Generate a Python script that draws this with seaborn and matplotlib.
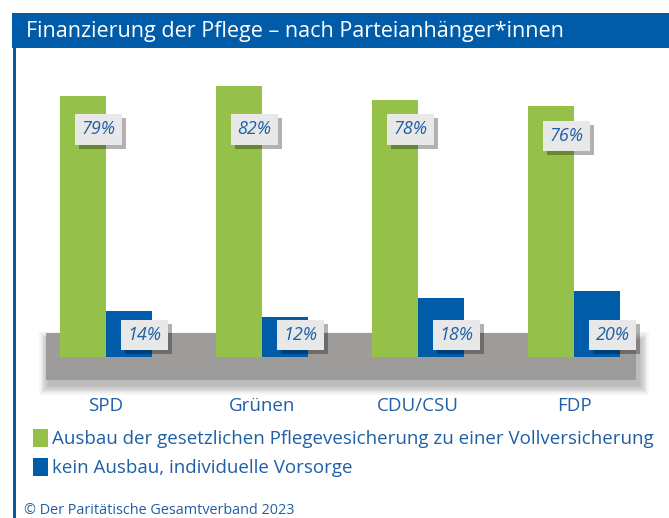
import matplotlib
matplotlib.use("Agg")
import matplotlib.pyplot as plt
import matplotlib.patheffects as pe
from matplotlib.patches import Rectangle
import seaborn as sns
import pandas as pd

parties = ["SPD", "Grünen", "CDU/CSU", "FDP"]
series_names = ["Ausbau der gesetzlichen Pflegevesicherung zu einer Vollversicherung",
                "kein Ausbau, individuelle Vorsorge"]
ausbau = [79, 82, 78, 76]
kein_ausbau = [14, 12, 18, 20]
title = "Finanzierung der Pflege – nach Parteianhänger*innen"
footer = "© Der Paritätische Gesamtverband 2023"

GREEN = "#95c14a"
BLUE = "#005ca9"
TXT = "#1f5fa6"
GRAY = "#9d9c9a"

df = pd.DataFrame({
    "Partei": parties * 2,
    "Serie": [series_names[0]] * 4 + [series_names[1]] * 4,
    "Wert": ausbau + kein_ausbau,
})

sns.set_theme(style="white")
plt.rcParams["font.family"] = ["Open Sans", "DejaVu Sans"]

W, H = 669, 518
fig = plt.figure(figsize=(W / 100, H / 100), dpi=100)

def fx(px):
    return px / W

def fy(py):
    return 1 - py / H

# title band and left rule
fig.patches.append(Rectangle((fx(12), fy(48)), 1 - fx(12), fy(13) - fy(48),
                             transform=fig.transFigure, facecolor=BLUE, edgecolor="none", zorder=0))
fig.patches.append(Rectangle((fx(13), 0), fx(2.5), fy(48), transform=fig.transFigure,
                             facecolor=BLUE, edgecolor="none", zorder=0))
fig.text(fx(26), fy(32), title, color="white", fontsize=15.5, va="center", ha="left")

ax = fig.add_axes([fx(46), fy(380), fx(636) - fx(46), fy(60) - fy(380)])
ax.set_zorder(1)
ax.patch.set_alpha(0)

sns.barplot(data=df, x="Partei", y="Wert", hue="Serie", order=parties,
            hue_order=series_names, palette=[GREEN, BLUE], width=0.59, gap=0,
            saturation=1, linewidth=0, edgecolor="none", ax=ax, zorder=3, legend=True)

XU, YU = 156.0, 3.3  # pixels per data unit
x_left = (46 - 106) / XU
x_right = (636 - 106) / XU
ax.set_xlim(x_left, x_right)
ax.set_ylim(-6.97, 90)

# floor with soft shadow (layered translucent rectangles)
fw, fh = x_right - x_left, 14.3
for k in range(8, 0, -1):
    g = k * 1.2
    ax.add_patch(Rectangle((x_left + 3 / XU - g / XU, -6.97 - 5 / YU - g / YU),
                           fw + 2 * g / XU, fh + 2 * g / YU - 4 / YU,
                           facecolor="black", alpha=0.035, edgecolor="none", zorder=1,
                           clip_on=False))
ax.add_patch(Rectangle((x_left, -6.97), fw, fh, facecolor=GRAY,
                       edgecolor="none", zorder=2, clip_on=False))

# value labels
bw = 0.59 / 2
for i, (g, b) in enumerate(zip(ausbau, kein_ausbau)):
    for xc, v, yl in [(i - bw / 2 + 0.1, g, min(g - 9, 69)), (i + bw / 2 + 0.1, b, 6.7)]:
        t = ax.text(xc, yl, f"{v}%", ha="center", va="center", color=TXT, fontsize=13,
                    style="italic", zorder=6,
                    bbox=dict(boxstyle="square,pad=0.35", facecolor="#e8e8e8", edgecolor="none"))
        t.get_bbox_patch().set_path_effects([
            pe.withSimplePatchShadow(offset=(3, -3), shadow_rgbFace="black", alpha=0.3),
            pe.Normal()])

ax.set_xlabel("")
ax.set_ylabel("")
ax.set_yticks([])
ax.set_xticks(range(4))
ax.set_xticklabels(parties, color=TXT, fontsize=13.5)
ax.tick_params(axis="x", length=0, pad=12)
for s in ax.spines.values():
    s.set_visible(False)

handles, labels = ax.get_legend_handles_labels()
ax.get_legend().remove()
fig.legend(handles, labels, loc="upper left", bbox_to_anchor=(fx(33), fy(429)),
           frameon=False, fontsize=13.5, labelcolor=TXT, handlelength=0.8,
           handleheight=1.1, handletextpad=0.2, labelspacing=0.5, borderaxespad=0,
           borderpad=0)

fig.text(fx(24), fy(511), footer, color=TXT, fontsize=10.4, va="center", ha="left")

fig.savefig("out.png", dpi=100)
